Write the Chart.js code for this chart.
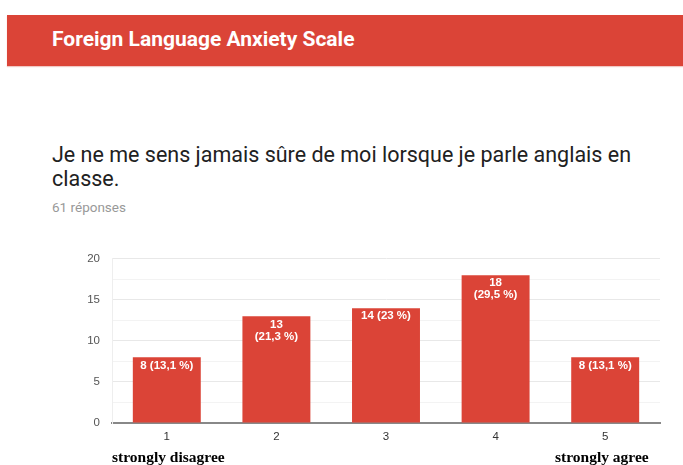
<!DOCTYPE html>
<html>
<head>
<meta charset="utf-8">
<script src="https://cdn.jsdelivr.net/npm/chart.js@4"></script>
<style>
  body { margin: 0; background: #fff; width: 683px; height: 465px; overflow: hidden; position: relative; font-family: Roboto, Arial, sans-serif; }
  .header { position: absolute; left: 7px; top: 15px; width: 676px; height: 51px; background: #db4437; box-shadow: 0 1px 1px #f0c8c4; }
  .header span { position: absolute; left: 45px; top: 12px; color: #fff; font-size: 21px; font-weight: bold; }
  .question { position: absolute; left: 52px; top: 143px; font-size: 21.5px; line-height: 24px; color: #212121; }
  .count { position: absolute; left: 52px; top: 199px; font-size: 13.5px; color: #999; }
  .anchor { position: absolute; top: 448px; font-family: "Liberation Serif", "Times New Roman", serif; font-weight: bold; font-size: 15.5px; color: #000; }
  #wrap { position: absolute; left: 0; top: 240px; width: 683px; height: 225px; }
</style>
</head>
<body>
<div class="header"><span>Foreign Language Anxiety Scale</span></div>
<div class="question">Je ne me sens jamais sûre de moi lorsque je parle anglais en<br>classe.</div>
<div class="count">61 réponses</div>
<div id="wrap"><canvas id="chart"></canvas></div>
<div class="anchor" style="left:112px">strongly disagree</div>
<div class="anchor" style="left:555px">strongly agree</div>

<script>
var categories = ['1', '2', '3', '4', '5'];
var counts = [8, 13, 14, 18, 8];
var barLabels = [
  ['8 (13,1 %)'],
  ['13', '(21,3 %)'],
  ['14 (23 %)'],
  ['18', '(29,5 %)'],
  ['8 (13,1 %)']
];
var yTicks = [0, 5, 10, 15, 20];

var barText = {
  id: 'barText',
  afterDatasetsDraw: function(chart) {
    var ctx = chart.ctx;
    var meta = chart.getDatasetMeta(0);
    ctx.save();
    ctx.fillStyle = '#fff';
    ctx.font = 'bold 11.5px Arial, "Liberation Sans", sans-serif';
    ctx.textAlign = 'center';
    ctx.textBaseline = 'middle';
    meta.data.forEach(function(bar, i) {
      barLabels[i].forEach(function(line, j) {
        ctx.fillText(line, bar.x, bar.y + 8 + j * 12);
      });
    });
    ctx.restore();
  }
};

var ctx = document.getElementById('chart').getContext('2d');
var chart = new Chart(ctx, {
  type: 'bar',
  data: {
    labels: categories,
    datasets: [{
      data: counts,
      backgroundColor: '#db4437',
      borderWidth: 0,
      categoryPercentage: 1,
      barPercentage: 0.62
    }]
  },
  options: {
    responsive: true,
    maintainAspectRatio: false,
    animation: false,
    layout: { padding: { top: 15, right: 23, left: 0, bottom: 0 } },
    plugins: { legend: { display: false }, tooltip: { enabled: false } },
    scales: {
      x: {
        grid: { display: false, drawTicks: false },
        border: { color: '#888', width: 2 },
        ticks: { color: '#333', font: { family: 'Arial', size: 11.5 }, padding: 7 },
        afterFit: function(scale) { scale.height = 42; }
      },
      y: {
        min: 0,
        max: 20,
        ticks: {
          stepSize: 2.5,
          autoSkip: false,
          padding: 12,
          color: '#555',
          font: { family: 'Arial', size: 11.5 },
          callback: function(v) { return yTicks.indexOf(v) >= 0 ? v : ''; }
        },
        grid: {
          drawTicks: false,
          color: function(c) { return yTicks.indexOf(c.tick.value) >= 0 ? '#e8e8e8' : '#f3f3f3'; }
        },
        border: { color: '#eeeeee' },
        afterFit: function(scale) { scale.width = 112; }
      }
    }
  },
  plugins: [barText]
});
</script>
</body>
</html>
